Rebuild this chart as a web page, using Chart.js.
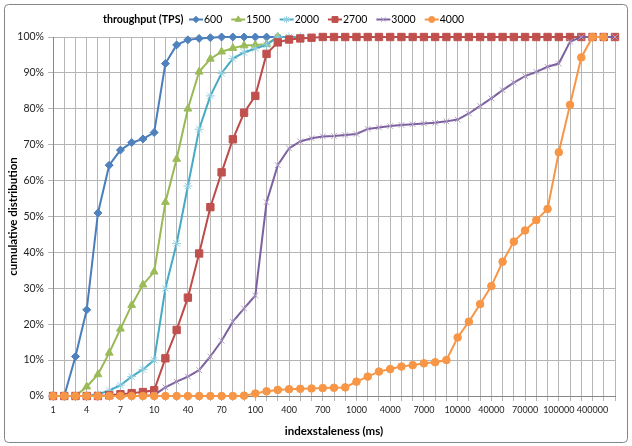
<!DOCTYPE html>
<html>
<head>
<meta charset="utf-8">
<script src="https://cdn.jsdelivr.net/npm/chart.js@4.4.1/dist/chart.umd.min.js"></script>
<style>
  html, body { margin: 0; padding: 0; background: #fff; }
  #wrap { width: 632px; height: 446px; }
</style>
</head>
<body>
<div id="wrap"><canvas id="stalenessChart" width="632" height="446"></canvas></div>
<script>
// ─── data ───
const staleness = ['1', '2', '3', '4', '5', '6', '7', '8', '9', '10',
    '20', '30', '40', '50', '60', '70', '80', '90', '100',
    '200', '300', '400', '500', '600', '700', '800', '900', '1000',
    '2000', '3000', '4000', '5000', '6000', '7000', '8000', '9000', '10000',
    '20000', '30000', '40000', '50000', '60000', '70000', '80000', '90000', '100000',
    '200000', '300000', '400000', '500000', '600000'];
const shownTicks = ['1', '4', '7', '10', '40', '70', '100', '400', '700', '1000',
    '4000', '7000', '10000', '40000', '70000', '100000', '400000'];
const yTicks = [0, 10, 20, 30, 40, 50, 60, 70, 80, 90, 100];

const tps600 = [0, 0, 11, 24, 51, 64.3, 68.5, 70.6, 71.6, 73.4,
    92.6, 97.8, 99.2, 99.6, 99.8, 100, 100, 100, 100, 100, 100];
const tps1500 = [0, 0, 0, 2.6, 6, 12, 18.7, 25.3, 31, 34.6,
    54, 66, 80, 90.3, 93.9, 95.9, 96.9, 97.6, 97.8, 98, 100];
const tps2000 = [0, 0, 0, 0, 0.5, 1.5, 3, 5.4, 7.4, 10,
    30, 42.5, 58.5, 74.3, 83.6, 89.9, 94, 95.7, 96.8, 97.8, 100, 100, 100];
const tps2700 = [0, 0, 0, 0, 0, 0.2, 0.5, 0.8, 1.1, 1.6,
    10.5, 18.4, 27.4, 39.7, 52.6, 62.3, 71.5, 78.9, 83.6, 95.3,
    98.5, 99.3, 99.6, 99.8, 100, 100, 100, 100, 100, 100,
    100, 100, 100, 100, 100, 100, 100, 100, 100, 100,
    100, 100, 100, 100, 100, 100, 100, 100, 100, 100, 100];
const tps3000 = [0, 0, 0, 0, 0, 0, 0, 0, 0, 0.3,
    2.4, 4, 5.4, 7.2, 11, 15.4, 20.7, 24.4, 28, 54,
    64.3, 69, 70.9, 71.8, 72.3, 72.4, 72.7, 73, 74.4, 74.8,
    75.2, 75.5, 75.7, 75.9, 76.1, 76.5, 77, 78.7, 80.8, 82.9,
    85.2, 87.3, 89.1, 90.3, 91.7, 92.6, 98.7, 100, 100, 100, 100];
const tps4000 = [0, 0, 0, 0, 0, 0, 0, 0, 0, 0,
    0, 0, 0, 0, 0, 0, 0, 0.1, 0.7, 1.3,
    1.7, 1.9, 2.0, 2.1, 2.2, 2.3, 2.4, 4.0, 5.4, 6.8,
    7.5, 8.2, 8.6, 9.1, 9.4, 10.0, 16.3, 20.7, 25.6, 30.6,
    37.4, 43, 46.1, 49, 52.1, 67.9, 81.1, 94.3, 100, 100];

const seriesNames = ['600', '1500', '2000', '2700', '3000', '4000'];

// ─── look ───
const styles = [
    { line: '#4A7EBB', fill: '#4F81BD', stroke: '#4F81BD', point: 'rectRot', r: 4 },
    { line: '#98B954', fill: '#9BBB59', stroke: '#9BBB59', point: 'triangle', r: 4.5 },
    { line: '#46AAC5', fill: '#93CDDD', stroke: '#93CDDD', point: 'star', r: 4.5 },
    { line: '#BE4B48', fill: '#C0504D', stroke: '#C0504D', point: 'rect', r: 5.2 },
    { line: '#7D60A0', fill: '#B3A2C7', stroke: '#B3A2C7', point: 'crossRot', r: 4 },
    { line: '#F79646', fill: '#F79646', stroke: '#F79646', point: 'circle', r: 3.8 }
];
const seriesData = [tps600, tps1500, tps2000, tps2700, tps3000, tps4000];

const FONT = 'Lato, "Open Sans", sans-serif';

const datasets = seriesNames.map((name, i) => ({
    label: name,
    data: seriesData[i],
    borderColor: styles[i].line,
    borderWidth: 2,
    pointStyle: styles[i].point,
    pointRadius: styles[i].r,
    pointBackgroundColor: styles[i].fill,
    pointBorderColor: styles[i].stroke,
    pointBorderWidth: 1,
    tension: 0,
    clip: false,
    order: seriesNames.length - i   // later series on top, like excel
}));

// frame + legend drawn by hand (legend title sits left of the entries)
const frameAndLegend = {
    id: 'frameAndLegend',
    beforeDraw(chart) {
        const ctx = chart.ctx;
        ctx.save();
        ctx.fillStyle = '#fff';
        ctx.fillRect(0, 0, chart.width, chart.height);
        ctx.strokeStyle = '#868686';
        ctx.lineWidth = 1;
        ctx.beginPath();
        ctx.roundRect(4.5, 4.5, 623, 438, 4);
        ctx.stroke();
        ctx.restore();
    },
    afterDraw(chart) {
        const ctx = chart.ctx;
        const y = 19.5;
        ctx.save();
        ctx.textBaseline = 'middle';
        ctx.fillStyle = '#000';
        ctx.font = 'bold 10.6px ' + FONT;
        ctx.fillText('throughput (TPS)', 103, y);

        ctx.font = '10.5px ' + FONT;
        let x = 189;
        seriesNames.forEach((name, i) => {
            const s = styles[i];
            ctx.strokeStyle = s.line;
            ctx.lineWidth = 2;
            ctx.beginPath();
            ctx.moveTo(x, y);
            ctx.lineTo(x + 14, y);
            ctx.stroke();
            ctx.fillStyle = s.fill;
            ctx.strokeStyle = s.stroke;
            ctx.lineWidth = 1;
            Chart.helpers.drawPoint(ctx, { pointStyle: s.point, radius: s.r * 0.8, rotation: 0, borderWidth: 1 }, x + 7, y);
            ctx.fillStyle = '#000';
            ctx.fillText(name, x + 15, y);
            x += 15 + ctx.measureText(name).width + 9;
        });
        ctx.restore();
    }
};

new Chart(document.getElementById('stalenessChart'), {
    type: 'line',
    data: { labels: staleness, datasets: datasets },
    options: {
        responsive: false,
        animation: false,
        layout: { padding: { left: 0, right: 17, top: 37, bottom: 8 } },
        plugins: {
            legend: { display: false },
            tooltip: { enabled: false }
        },
        scales: {
            x: {
                afterFit: s => { s.height = 42; },
                grid: { color: '#b5b5b5', tickLength: 5, drawTicks: true },
                border: { color: '#868686' },
                ticks: {
                    autoSkip: false,
                    maxRotation: 0,
                    padding: 4,
                    color: '#222',
                    font: { family: FONT, size: 9 },
                    callback: function (v, i) {
                        const lab = staleness[i];
                        return shownTicks.includes(lab) ? lab : '';
                    }
                },
                title: {
                    display: true,
                    text: 'indexstaleness (ms)',
                    color: '#000',
                    font: { family: FONT, size: 11.5, weight: 'bold' },
                    padding: { top: 0, bottom: 0 }
                }
            },
            y: {
                min: 0,
                max: 100,
                afterFit: s => { s.width = 53; },
                afterBuildTicks: s => { s.ticks = yTicks.map(v => ({ value: v })); },
                grid: { color: '#b5b5b5', tickLength: 5 },
                border: { color: '#868686' },
                ticks: {
                    padding: 4,
                    color: '#222',
                    font: { family: FONT, size: 10.5 },
                    callback: v => v + '%'
                },
                title: {
                    display: true,
                    text: 'cumulative distribution',
                    color: '#000',
                    font: { family: FONT, size: 11.5, weight: 'bold' },
                    padding: { top: 6, bottom: 0 }
                }
            }
        }
    },
    plugins: [frameAndLegend]
});
</script>
</body>
</html>
